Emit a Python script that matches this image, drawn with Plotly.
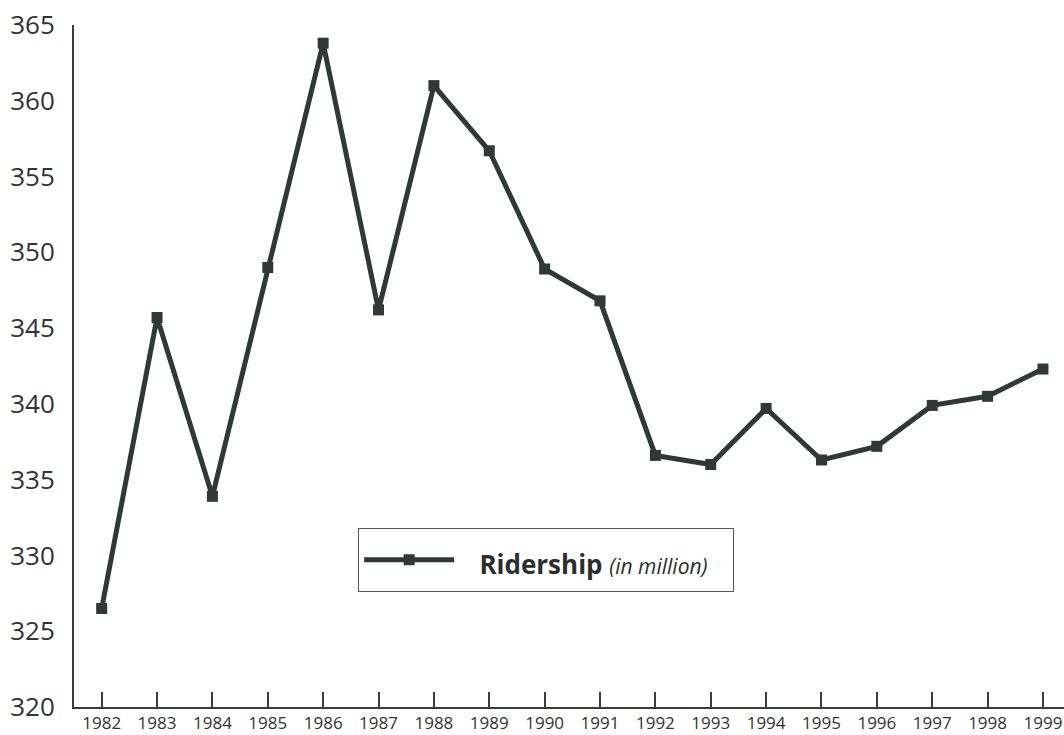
import plotly.graph_objects as go

years = list(range(1982, 2000))
ridership = [326.5, 345.7, 333.9, 349.0, 363.8, 346.2, 361.0, 356.7, 348.9,
             346.8, 336.6, 336.0, 339.7, 336.3, 337.2, 339.9, 340.5, 342.3]
y_ticks = [320, 325, 330, 335, 340, 345, 350, 355, 360, 365]

line_color = "#323836"
axis_color = "#3a3d3a"
font_family = "Open Sans, Lato, sans-serif"

legend_label = (
    "<span style='font-size:26px'>&nbsp;&nbsp;&nbsp;<b>Ridership</b> </span>"
    "<i><span style='font-size:21px'>(in million)</span></i>"
    "<span style='font-size:26px'>&nbsp;&nbsp;&nbsp;</span>"
)

fig = go.Figure()
fig.add_trace(go.Scatter(
    x=years, y=ridership,
    mode="lines+markers",
    name=legend_label,
    line=dict(color=line_color, width=5),
    marker=dict(symbol="square", size=11, color=line_color),
))

fig.update_layout(
    width=1064, height=735,
    margin=dict(l=74, r=0, t=25, b=28),
    paper_bgcolor="white",
    plot_bgcolor="white",
    font=dict(family=font_family, color="#333"),
    showlegend=True,
    legend=dict(
        x=0.287, y=0.262, xanchor="left", yanchor="top",
        bgcolor="white",
        bordercolor="#555", borderwidth=1,
        font=dict(size=37, color="#2a2f2d", family=font_family),
        itemwidth=90,
        tracegroupgap=0,
    ),
    xaxis=dict(
        range=[1981.5, 1999.38],
        tickmode="array", tickvals=years, ticktext=[str(y) for y in years],
        ticks="inside", ticklen=15, tickwidth=2, tickcolor=axis_color,
        showline=True, linecolor=axis_color, linewidth=2,
        showgrid=False, zeroline=False,
        tickfont=dict(size=17, color="#333"),
        fixedrange=True,
    ),
    yaxis=dict(
        range=[320, 365],
        tickmode="array", tickvals=y_ticks,
        ticks="", showline=True, linecolor=axis_color, linewidth=2,
        showgrid=False, zeroline=False,
        tickfont=dict(size=26, color="#333"),
        ticklabelstandoff=12,
        fixedrange=True,
    ),
)

fig.write_html("out.html")
